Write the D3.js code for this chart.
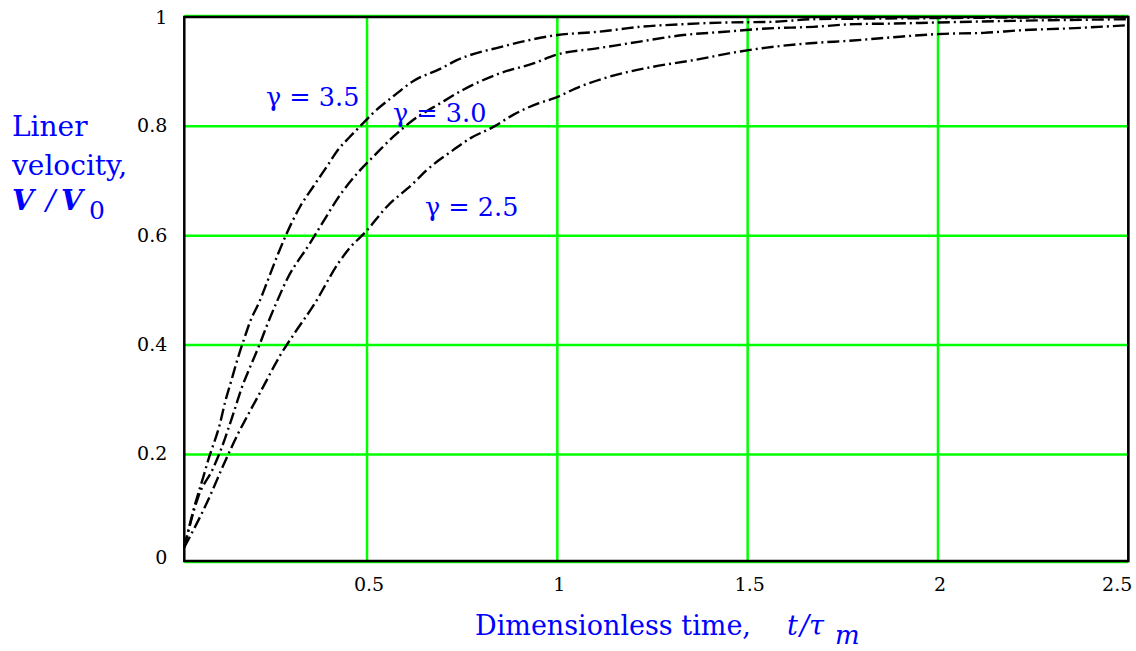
<!DOCTYPE html>
<html><head><meta charset="utf-8">
<script src="https://cdn.jsdelivr.net/npm/d3@7"></script>
<style>
body{margin:0;background:#fff;}
svg{display:block;}
</style></head>
<body>
<svg id="chart" width="1136" height="651"></svg>
<script>
// ---- data ----
const t25 = [0.02,0.079,0.127,0.162,0.184,0.223,0.271,0.311,0.359,0.425,0.455,0.495,0.552,0.622,0.657,0.727,0.771,0.832,0.884,0.95,0.99,1.06,1.138,1.252,1.357,1.48,1.55,1.664,1.777,1.9,2.005,2.12,2.224,2.34,2.45,2.5];
const v25 = [0.03,0.111,0.187,0.239,0.268,0.318,0.38,0.423,0.472,0.55,0.578,0.606,0.653,0.696,0.72,0.757,0.778,0.799,0.821,0.842,0.851,0.873,0.891,0.909,0.921,0.937,0.944,0.952,0.957,0.964,0.969,0.971,0.976,0.979,0.983,0.985];
const t30 = [0.02,0.057,0.096,0.118,0.149,0.171,0.193,0.219,0.236,0.263,0.289,0.35,0.394,0.42,0.482,0.517,0.569,0.622,0.692,0.753,0.849,0.937,0.998,1.108,1.217,1.331,1.44,1.55,1.672,1.782,1.887,2.0,2.2,2.5];
const v30 = [0.03,0.123,0.175,0.212,0.275,0.322,0.36,0.403,0.434,0.479,0.519,0.586,0.636,0.665,0.72,0.745,0.781,0.812,0.842,0.867,0.897,0.915,0.931,0.943,0.955,0.967,0.973,0.979,0.982,0.987,0.988,0.99,0.993,0.996];
const t35 = [0.02,0.044,0.07,0.083,0.114,0.127,0.144,0.158,0.179,0.193,0.219,0.232,0.267,0.289,0.324,0.359,0.394,0.425,0.455,0.486,0.517,0.569,0.622,0.692,0.736,0.85,1.0,1.108,1.217,1.335,1.445,1.56,1.672,1.8,2.0,2.2,2.5];
const v35 = [0.03,0.098,0.159,0.19,0.257,0.295,0.336,0.37,0.415,0.443,0.482,0.505,0.568,0.604,0.653,0.69,0.726,0.758,0.781,0.803,0.825,0.855,0.883,0.905,0.921,0.945,0.967,0.973,0.982,0.987,0.99,0.991,0.996,0.997,0.998,0.999,1.0];
const seriesLabels = ["\u03B3 = 2.5","\u03B3 = 3.0","\u03B3 = 3.5"];
const xTicks = [0.5,1,1.5,2,2.5];
const yTicks = [0,0.2,0.4,0.6,0.8,1];
const xDomain = [0.02,2.5];
const yDomain = [0.005,1];

// ---- layout ----
const svg = d3.select("#chart");
const L = 184.3, R = 1128.3, T = 17, B = 561;
const x = d3.scaleLinear().domain(xDomain).range([L,R]);
const y = d3.scaleLinear().domain(yDomain).range([B,T]);
const GREEN = "#00ff00", BLUE = "#0000ff";
const serif = "'DejaVu Serif', serif";

// grid
const grid = svg.append("g");
grid.selectAll("line.v").data(xTicks).join("line")
  .attr("x1",d=>x(d)).attr("x2",d=>x(d)).attr("y1",T).attr("y2",B)
  .attr("stroke",GREEN).attr("stroke-width",2.5);
grid.selectAll("line.h").data(yTicks).join("line")
  .attr("x1",L).attr("x2",R)
  .attr("y1",d=>y(Math.max(d,yDomain[0]))+(d===0?1.5:(d===1?-1.5:0)))
  .attr("y2",d=>y(Math.max(d,yDomain[0]))+(d===0?1.5:(d===1?-1.5:0)))
  .attr("stroke",GREEN).attr("stroke-width",d=>(d===0||d===1)?1.5:2.5);

// frame
svg.append("rect").attr("x",L).attr("y",T).attr("width",R-L).attr("height",B-T)
  .attr("fill","none").attr("stroke","#000").attr("stroke-width",2.5);

// axes labels
const xAxis = svg.append("g").attr("transform",`translate(1.5,${B})`)
  .call(d3.axisBottom(x).tickValues(xTicks).tickSize(0).tickPadding(17).tickFormat(d=>String(d)));
xAxis.select(".domain").remove();
xAxis.selectAll("text").attr("font-family",serif).attr("font-size",19).attr("fill","#000")
  .attr("text-anchor",d=>d===2.5?"end":"middle")
  .attr("dx",d=>d===2.5?"2":"0");

const yAxis = svg.append("g").attr("transform",`translate(${L},0)`)
  .call(d3.axisLeft(y).tickValues(yTicks).tickSize(0).tickPadding(17)
    .tickFormat(d=>String(d)));
yAxis.select(".domain").remove();
yAxis.selectAll(".tick").attr("transform",d=>`translate(0,${y(Math.max(d,yDomain[0]))-(d===0?3:0)+(d===1?1:0)})`);
yAxis.selectAll("text").attr("font-family",serif).attr("font-size",19).attr("fill","#000");

// curves
const series = [[t25,v25],[t30,v30],[t35,v35]];
const line = d3.line().x(d=>x(d[0])).y(d=>y(d[1])).curve(d3.curveMonotoneX);
svg.append("g").selectAll("path").data(series).join("path")
  .attr("d",s=>line(s[0].map((t,i)=>[t,s[1][i]])))
  .attr("fill","none").attr("stroke","#000").attr("stroke-width",2.4)
  .attr("stroke-dasharray","12,4,2,4");

// series labels
const labPos = [[266,105.5],[393,121.7],[425,215.5]].reverse();
svg.append("g").selectAll("text").data(seriesLabels).join("text")
  .attr("x",(d,i)=>labPos[i][0]).attr("y",(d,i)=>labPos[i][1])
  .attr("font-family",serif).attr("font-size",25.5).attr("fill",BLUE)
  .text(d=>d);

// y title
const yt = svg.append("g").attr("font-family",serif).attr("fill",BLUE).attr("font-size",28);
yt.append("text").attr("x",12).attr("y",136).text("Liner");
yt.append("text").attr("x",12).attr("y",175).text("velocity,");
const yv = yt.append("text").attr("y",210).attr("font-style","italic").attr("font-weight","bold");
yv.append("tspan").attr("x",12).text("V");
yv.append("tspan").attr("x",46).attr("font-weight","normal").text("/");
yv.append("tspan").attr("x",61).text("V");
yt.append("text").attr("x",89).attr("y",219).attr("font-size",25).text("0");

// x title
const xt = svg.append("g").attr("font-family",serif).attr("fill",BLUE).attr("font-size",27);
xt.append("text").attr("x",475).attr("y",635).text("Dimensionless time,");
xt.append("text").attr("x",787).attr("y",635).attr("font-style","italic").text("t");
xt.append("text").attr("x",800).attr("y",635).attr("font-style","italic").text("/");
xt.append("text").attr("x",809).attr("y",635).attr("font-style","italic").text("\u03C4");
xt.append("text").attr("x",835).attr("y",644).attr("font-style","italic").attr("font-size",26).text("m");
</script>
</body></html>
